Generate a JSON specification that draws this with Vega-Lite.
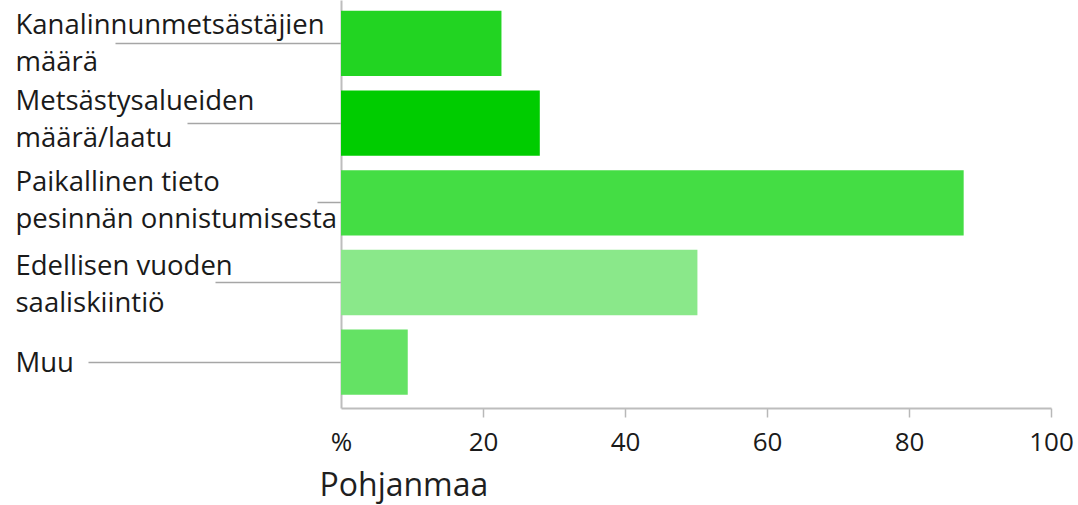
{
  "$schema": "https://vega.github.io/schema/vega-lite/v6.json",
  "autosize": "none",
  "padding": {"left": 341, "top": 0, "right": 27, "bottom": 97},
  "width": 710,
  "height": 408,
  "background": "white",
  "config": {"view": {"stroke": null}},
  "data": {
    "values": [
      {"label": "Kanalinnunmetsästäjien\nmäärä", "value": 22.6},
      {"label": "Metsästysalueiden\nmäärä/laatu", "value": 28.0},
      {"label": "Paikallinen tieto\npesinnän onnistumisesta", "value": 87.7},
      {"label": "Edellisen vuoden\nsaaliskiintiö", "value": 50.2},
      {"label": "Muu", "value": 9.4}
    ]
  },
  "mark": {"type": "bar"},
  "encoding": {
    "y": {
      "field": "label",
      "type": "nominal",
      "sort": null,
      "scale": {"paddingInner": 0.18, "paddingOuter": 0.15, "align": 0.45},
      "axis": {
        "title": null,
        "labelExpr": "split(datum.label, '\\n')",
        "labelAlign": "left",
        "labelBaseline": "middle",
        "labelPadding": {
          "condition": [
            {"test": "indexof(datum.value,'Kanalinnun')>=0", "value": 100},
            {"test": "indexof(datum.value,'Metsästys')>=0", "value": 172},
            {"test": "indexof(datum.value,'Paikallinen')>=0", "value": 302},
            {"test": "indexof(datum.value,'Edellisen')>=0", "value": 200}
          ],
          "value": 73
        },
        "labelOffset": {
          "condition": [
            {"test": "indexof(datum.value,'Kanalinnun')>=0", "value": -17},
            {"test": "indexof(datum.value,'Metsästys')>=0", "value": -21},
            {"test": "indexof(datum.value,'Paikallinen')>=0", "value": -20},
            {"test": "indexof(datum.value,'Edellisen')>=0", "value": -15}
          ],
          "value": 2
        },
        "labelLimit": 0,
        "labelOverlap": false,
        "labelFont": "Open Sans",
        "labelFontSize": 27.5,
        "labelLineHeight": 37,
        "labelColor": "#1a1a1a",
        "ticks": true,
        "tickSize": {
          "condition": [
            {"test": "indexof(datum.value,'Kanalinnun')>=0", "value": 226},
            {"test": "indexof(datum.value,'Metsästys')>=0", "value": 154},
            {"test": "indexof(datum.value,'Paikallinen')>=0", "value": 24},
            {"test": "indexof(datum.value,'Edellisen')>=0", "value": 126}
          ],
          "value": 253
        },
        "tickColor": "#a6a6a6",
        "tickWidth": 1.5,
        "domainColor": "#bdbdbd",
        "domainWidth": 2
      }
    },
    "x": {
      "field": "value",
      "type": "quantitative",
      "scale": {"domain": [0, 100], "nice": false},
      "axis": {
        "title": "Pohjanmaa",
        "titleFont": "Open Sans",
        "titleFontSize": 32,
        "titleFontWeight": "normal",
        "titleColor": "#1f1f1f",
        "titleAnchor": "start",
        "titleAlign": "left",
        "titleBaseline": "alphabetic",
        "titleX": -22,
        "titleY": 87,
        "values": [0, 20, 40, 60, 80, 100],
        "labelExpr": "datum.value == 0 ? '%' : datum.label",
        "labelFont": "Open Sans",
        "labelFontSize": 26,
        "labelColor": "#1a1a1a",
        "labelPadding": 12,
        "labelFlush": false,
        "labelOverlap": false,
        "grid": false,
        "tickSize": 9,
        "tickColor": "#b8b8b8",
        "tickWidth": 1.5,
        "tickOpacity": {"condition": {"test": "datum.value == 0", "value": 0}, "value": 1},
        "domainColor": "#bdbdbd",
        "domainWidth": 2
      }
    },
    "color": {
      "field": "label",
      "type": "nominal",
      "legend": null,
      "scale": {
        "domain": ["Kanalinnunmetsästäjien\nmäärä", "Metsästysalueiden\nmäärä/laatu", "Paikallinen tieto\npesinnän onnistumisesta", "Edellisen vuoden\nsaaliskiintiö", "Muu"],
        "range": ["#22d422", "#00cc00", "#44dd44", "#8ae88a", "#64e264"]
      }
    }
  }
}
